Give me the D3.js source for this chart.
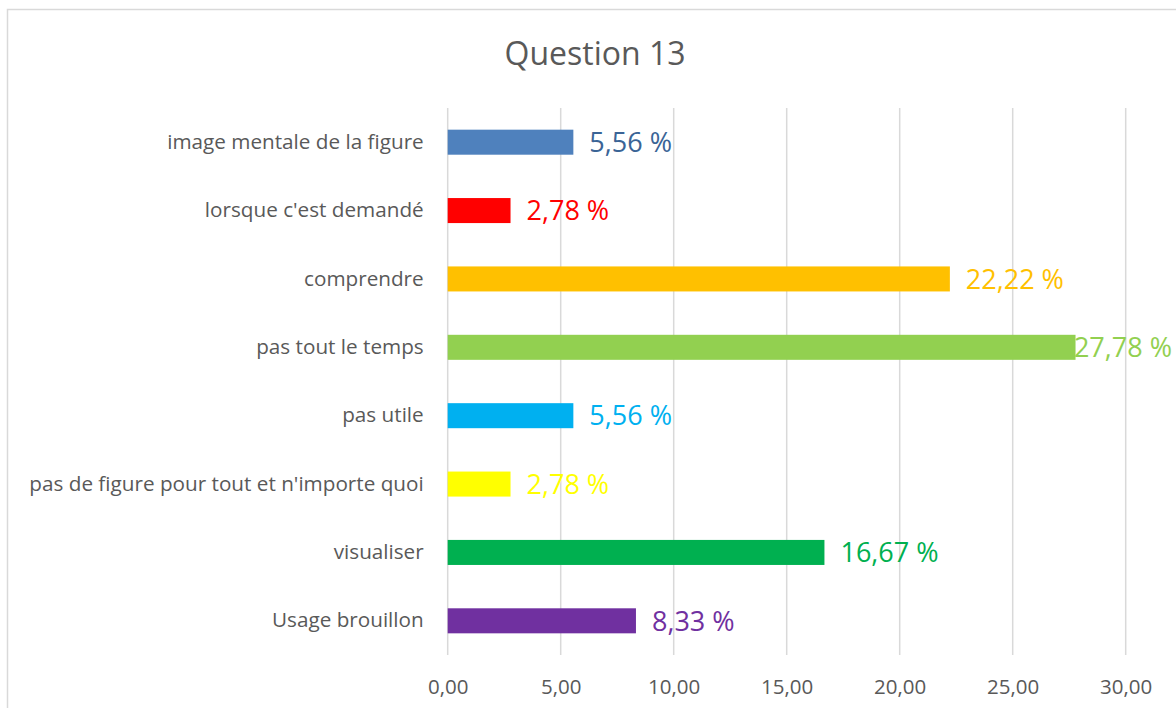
<!DOCTYPE html>
<html>
<head>
<meta charset="utf-8">
<script src="https://cdn.jsdelivr.net/npm/d3@7"></script>
<style>
html,body{margin:0;padding:0;background:#fff;}
svg{display:block;font-family:"Open Sans",sans-serif;}
</style>
</head>
<body>
<svg id="chart" width="1176" height="708"></svg>
<script>
const categories = ["image mentale de la figure","lorsque c'est demandé","comprendre","pas tout le temps","pas utile","pas de figure pour tout et n'importe quoi","visualiser","Usage brouillon"];
const values = [5.56, 2.78, 22.22, 27.78, 5.56, 2.78, 16.67, 8.33];
const barColors = ["#4F81BD","#FF0000","#FFC000","#92D050","#00B0F0","#FFFF00","#00B050","#7030A0"];
const labelColors = ["#3A6496","#FF0000","#FFC000","#92D050","#00B0F0","#FFFF00","#00B050","#7030A0"];
const xTicks = [0,5,10,15,20,25,30];
const title = "Question 13";

const svg = d3.select("#chart");
// outer border
svg.append("rect").attr("x",7.5).attr("y",9.5).attr("width",1200).attr("height",760)
  .attr("fill","none").attr("stroke","#D9D9D9").attr("stroke-width",1.5);

const x = d3.scaleLinear().domain([0,30]).range([447.7,1125.7]);
const y = d3.scaleBand().domain(categories).range([108,655]).paddingInner(0.634).paddingOuter(0.317);

// gridlines
svg.append("g").selectAll("line").data(xTicks).join("line")
  .attr("x1",d=>x(d)).attr("x2",d=>x(d)).attr("y1",108).attr("y2",655)
  .attr("stroke","#D9D9D9").attr("stroke-width",1.5);

// bars
svg.append("g").selectAll("rect").data(values).join("rect")
  .attr("x",x(0)).attr("y",(d,i)=>y(categories[i]))
  .attr("width",d=>x(d)-x(0)).attr("height",y.bandwidth())
  .attr("fill",(d,i)=>barColors[i]);

// value labels
const labels = svg.append("g").selectAll("text").data(values).join("text")
  .attr("x",d=>x(d)+16).attr("y",(d,i)=>y(categories[i])+y.bandwidth()/2)
  .attr("dy","0.36em").attr("font-size",27)
  .attr("fill",(d,i)=>labelColors[i])
  .text(d=>d.toFixed(2).replace(".",",")+" %");
// keep labels inside the chart area (like Excel)
labels.each(function(d){
  const w = this.getComputedTextLength();
  const maxEnd = 1172;
  const cur = x(d)+16;
  if (cur + w > maxEnd) d3.select(this).attr("x", maxEnd - w);
});

// y axis labels
const yAxis = d3.axisLeft(y).tickSize(0).tickPadding(24);
const gy = svg.append("g").attr("transform",`translate(${x(0)},0)`).call(yAxis);
gy.select(".domain").remove();
gy.selectAll("text").attr("font-size",20.7).attr("fill","#595959").attr("font-family","'Open Sans',sans-serif");

// x axis labels
const xAxis = d3.axisBottom(x).tickValues(xTicks).tickSize(0).tickPadding(0)
  .tickFormat(d=>d3.format(".2f")(d).replace(".",","));
const gx = svg.append("g").attr("transform","translate(0,679)").call(xAxis);
gx.select(".domain").remove();
gx.selectAll("text").attr("font-size",20.5).attr("fill","#595959").attr("font-family","'Open Sans',sans-serif");

// title
svg.append("text").attr("x",595).attr("y",65).attr("text-anchor","middle")
  .attr("font-size",32).attr("fill","#595959").text(title);
</script>
</body>
</html>
